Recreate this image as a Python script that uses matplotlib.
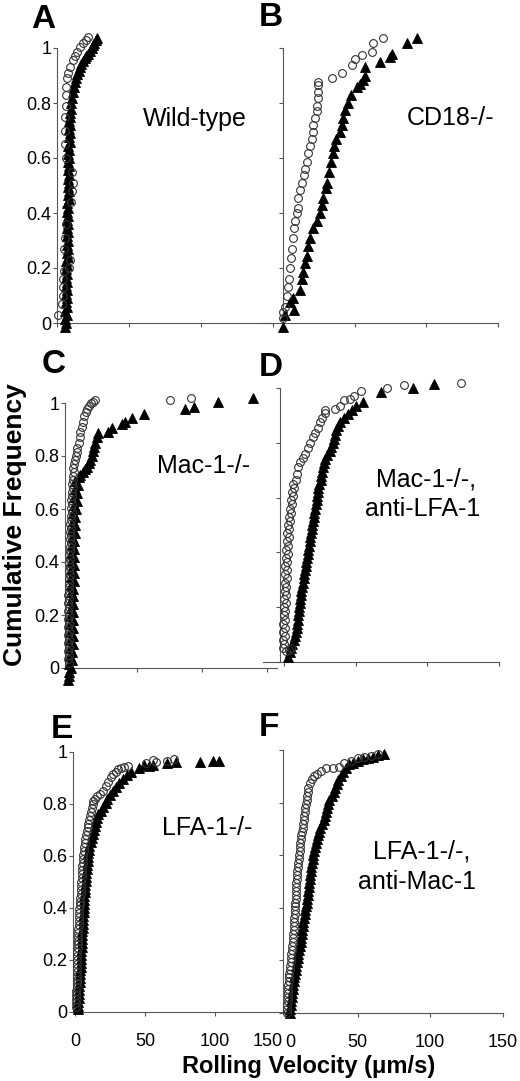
import matplotlib
matplotlib.use('Agg')
import matplotlib.pyplot as plt
from matplotlib.transforms import ScaledTranslation

plt.rcParams['font.family'] = ['Liberation Sans', 'DejaVu Sans']

# ---------------- data (velocity in um/s, cumulative frequency) ----------------
# Panel A  Wild-type
A_tri_v = [5.6,6.4,5.8,6.6,5.9,6.7,6.0,6.8,6.1,6.9, 6.2,7.0,6.3,7.1,6.4,7.2,6.5,7.3,6.6,7.4,
           6.7,7.5,6.8,7.6,6.9,7.7,7.0,7.8,7.1,7.9, 7.2,8.0,7.3,8.1,7.4,8.2,7.5,8.3,7.6,8.4,
           7.7,8.5,7.8,8.6,7.9,8.7,8.0,8.8,8.2,9.0, 8.4,9.2,8.7,9.4,
           9.8,10.5,11.2,12.0,12.6,13.2,14.0,15.0,16.0,17.0,
           18.0,19.2,20.4,21.6,22.8,24.0,25.0,26.0,27.0,28.0]
A_tri_f = [-0.015,0.000,0.015,0.030,0.045,0.060,0.075,0.090,0.105,0.120, 0.135,0.150,0.165,0.180,0.195,0.210,0.225,0.240,0.255,0.270,
           0.285,0.300,0.315,0.330,0.345,0.360,0.375,0.390,0.405,0.420, 0.435,0.450,0.465,0.480,0.495,0.510,0.525,0.540,0.555,0.570,
           0.585,0.600,0.615,0.630,0.645,0.660,0.675,0.690,0.705,0.720, 0.735,0.750,0.765,0.780,
           0.800,0.820,0.840,0.860,0.875,0.890,0.905,0.918,0.930,0.942,
           0.953,0.963,0.972,0.980,0.990,1.000,1.010,1.020,1.028,1.036]
A_cir_v = [0.7,3.5,4.0,4.5,4.5,5.0,8.5,9.0,5.0,5.5,6.0,10.0,10.5,11.0,10.5,6.0,5.5,5.5,5.5,6.0,
           6.0,6.5,7.0,7.6,9.0,11.0,12.5,14.0,16.0,18.0,20.0,21.5]
A_cir_f = [0.03,0.07,0.1,0.13,0.16,0.19,0.2,0.23,0.27,0.31,0.36,0.44,0.48,0.51,0.55,0.6,0.65,0.7,0.75,0.79,
           0.83,0.86,0.89,0.91,0.93,0.955,0.97,0.985,1.005,1.02,1.03,1.04]

# Panel B  CD18-/-
B_tri_v = [0,1.4,5,7.7,7,12,13,14,15.4,16.8,17.5,19,21,23.8,26,27,28,30,31,32,
           33.6,35,36,37,40,41,42,43.4,45.5,47.5,51.7,54,56,57,57,68,75,76,87,94]
B_tri_f = [-0.015,0.03,0.076,0.047,0.09,0.12,0.16,0.185,0.22,0.245,0.28,0.31,0.345,0.37,0.4,0.43,0.455,0.49,0.51,0.55,
           0.585,0.62,0.645,0.67,0.695,0.72,0.745,0.775,0.8,0.83,0.86,0.87,0.885,0.9,0.93,0.95,0.967,0.98,1.02,1.036]
B_cir_v = [0,0,1.5,3,3.5,4.5,5,5.6,6.3,7,7.7,8.4,9.8,10.5,10.5,12,13,14.7,15.4,16.8,
           17.5,19,20,21,21,22.4,23.8,23.8,24.5,24.5,24.5,24.5,34,41,48,50,55,62,63,70]
B_cir_f = [0.02,0.04,0.06,0.1,0.13,0.16,0.2,0.235,0.27,0.31,0.345,0.37,0.4,0.42,0.455,0.485,0.51,0.54,0.56,0.585,
           0.62,0.645,0.67,0.695,0.72,0.745,0.77,0.79,0.82,0.84,0.865,0.875,0.89,0.91,0.94,0.96,0.975,0.985,1.02,1.036]

# Panel C  Mac-1-/-
C_tri_v = [-3.0,-2.0,-2.5,-1.0,-2.0,0.0,-1.8,0.2,-1.6,0.4, -1.5,0.5,-1.4,0.6,-1.3,0.7,-1.2,0.8,-1.1,0.9,
           -1.0,1.0,-0.9,1.1,-0.8,1.2,-0.7,1.3,-0.6,1.4, -0.5,1.5,-0.4,1.6,-0.2,1.8,0.0,2.0,0.2,2.3,
           0.5,2.6,0.8,3.0,1.2,3.5,1.6,4.0,2.0,4.6, 2.5,5.5,
           6.5,8.5,10,11.5,13,14,15,16,17,18,
           19,20,27.7,31,38.5,41,46,55,87,94, 112,139]
C_tri_f = [-0.045,-0.030,-0.015,0.000,0.015,0.030,0.045,0.060,0.075,0.090, 0.105,0.120,0.135,0.150,0.165,0.180,0.195,0.210,0.225,0.240,
           0.255,0.270,0.285,0.300,0.315,0.330,0.345,0.360,0.375,0.390, 0.405,0.420,0.435,0.450,0.465,0.480,0.495,0.510,0.525,0.540,
           0.555,0.570,0.585,0.600,0.615,0.630,0.645,0.660,0.675,0.690, 0.705,0.720,
           0.730,0.740,0.750,0.760,0.775,0.785,0.800,0.820,0.835,0.850,
           0.870,0.885,0.890,0.905,0.920,0.930,0.945,0.960,0.978,0.985, 1.004,1.020]
C_cir_v = [-2.5,-3.2,-2.0,-3.0,-2.5,-3.2,-2.2,-3.0,-2.6,-3.1, -2.4,-3.0,-2.5,-2.9,-2.3,-2.8,-2.2,-2.7,-2.1,-2.6,
           -2.0,-2.5,-1.8,-2.4,-1.6,-2.3,-1.4,-2.1,-1.2,-1.9, -1.0,-1.7,-0.8,-1.5,-0.6,-1.3,-0.4,-1.1,-0.2,-0.9,
           0.0,-0.6,0.3,-0.3,0.6,0.0,1.0,0.4,1.4,0.9, 1.8,2.2,2.8,
           3.5,4,5,6,6.5,7.5,8.5,9.5,10.5,11.5,
           13,14.5,16,18,75,91.5]
C_cir_f = [0.020,0.035,0.050,0.065,0.080,0.095,0.110,0.125,0.140,0.155, 0.170,0.185,0.200,0.215,0.230,0.245,0.260,0.275,0.290,0.305,
           0.320,0.335,0.350,0.365,0.380,0.395,0.410,0.425,0.440,0.455, 0.470,0.485,0.500,0.515,0.530,0.545,0.560,0.575,0.590,0.605,
           0.620,0.635,0.650,0.665,0.680,0.695,0.710,0.725,0.740,0.755, 0.770,0.785,0.800,
           0.815,0.830,0.850,0.870,0.890,0.910,0.930,0.950,0.965,0.978,
           0.990,1.000,1.005,1.010,1.010,1.020]

# Panel D  Mac-1-/-, anti-LFA-1
D_tri_v = [2.8,4.0,4.8,5.8,6.8,7.8,8.4,9.0,9.4,9.7, 10.0,10.3,10.6,10.9,11.2,11.6,12.1,12.6,13.1,13.7,
           14.2,14.7,15.1,15.5,16.0,16.5,17.0,17.5,18.0,18.5, 18.9,19.3,19.8,20.3,20.8,21.2,21.8,22.4,23.0,23.3,
           23.6,24.0,24.8,25.7,26.2,26.6,27.0,27.8,28.6,30.0, 32.0,33.0,34.0,35.0,35.8,36.6,37.5,39.5,42.0,45.0,
           47.5,50.5,55.0, 68,90,105]
D_tri_f = [0.020,0.035,0.050,0.065,0.080,0.095,0.110,0.125,0.140,0.155, 0.170,0.185,0.200,0.215,0.230,0.245,0.260,0.275,0.290,0.305,
           0.320,0.335,0.350,0.365,0.380,0.395,0.410,0.425,0.440,0.455, 0.470,0.485,0.500,0.515,0.530,0.545,0.560,0.575,0.590,0.605,
           0.620,0.635,0.650,0.665,0.680,0.695,0.710,0.725,0.740,0.755, 0.770,0.785,0.800,0.815,0.830,0.845,0.860,0.875,0.890,0.905,
           0.920,0.935,0.950, 0.985,1.000,1.015]
D_cir_v = [1.5,3.5,5.0, -1.0,0.2,-0.8,0.4,-0.6,0.6,-0.4,0.8,-0.2,1.0, 0.0,1.2,0.2,1.4,0.4,1.6,0.6,1.8,0.8,2.0,
           1.0,2.3,1.3,2.6,1.6,2.9,1.9,3.2,2.2,3.5, 3.0,4.4,3.5,5.0,4.0,5.6,4.6,6.3,5.3,7.0, 6.5,8.5,
           9,10,11,13,14.5,16.7,18,20,21.5,23.6, 25,26.4,28.5,28.5,35.4,39,41.7,46,49,54, 72,84,124]
D_cir_f = [0.040,0.045,0.050, 0.050,0.065,0.080,0.095,0.110,0.125,0.140,0.155,0.170,0.185, 0.200,0.215,0.230,0.245,0.260,0.275,0.290,0.305,0.320,0.335,
           0.350,0.365,0.380,0.395,0.410,0.425,0.440,0.455,0.470,0.485, 0.500,0.515,0.530,0.545,0.560,0.575,0.590,0.605,0.620,0.635, 0.650,0.665,
           0.685,0.710,0.730,0.745,0.760,0.780,0.800,0.820,0.835,0.855, 0.875,0.890,0.910,0.920,0.925,0.934,0.955,0.960,0.970,0.990, 1.000,1.010,1.020]

# Panel E  LFA-1-/-
E_tri_v = [2.0,2.2,2.4,2.6,2.8,3.0,3.15,3.3,3.45,3.6, 3.8,3.95,4.1,4.25,4.4,4.6,4.75,4.9,5.05,5.2,
           5.35,5.5,5.7,5.85,6.0,6.15,6.3,6.45,6.6,6.75, 6.9,7.1,7.4,7.65,7.9,8.15,8.4,8.7,9.0,9.3,
           9.5,9.8,10.3,11.1,11.9,12.7,13.6,14.4,15.3,16.0, 16.7,18.3,20.3,21.9,23.1,24.8,27.2,29.4,31.4,34.1,
           36.8,40.3,45.4, 49,53,56,66,72,89,98.6,103]
E_tri_f = [0.010,0.025,0.040,0.055,0.070,0.085,0.100,0.115,0.130,0.145, 0.160,0.175,0.190,0.205,0.220,0.235,0.250,0.265,0.280,0.295,
           0.310,0.325,0.340,0.355,0.370,0.385,0.400,0.415,0.430,0.445, 0.460,0.475,0.490,0.505,0.520,0.535,0.550,0.565,0.580,0.595,
           0.610,0.625,0.640,0.655,0.670,0.685,0.700,0.715,0.730,0.745, 0.760,0.775,0.790,0.805,0.820,0.835,0.850,0.865,0.880,0.895,
           0.910,0.925,0.940, 0.950,0.946,0.950,0.958,0.960,0.960,0.965,0.965]
E_cir_v = [0.7,0.8,0.86,0.94,1.02,1.1,1.18,1.26,1.35,1.42, 1.5,1.56,1.63,1.7,1.77,1.84,1.9,1.98,2.1,2.25,
           2.4,2.55,2.7,2.85,3.0,3.2,3.45,3.65,3.85,4.1, 4.3,4.45,4.6,4.8,4.95,5.1,5.25,5.45,5.6,5.8,
           6.1,6.45,6.8,7.2,7.8,8.4,9.0,9.5,10.1,10.6, 11.2,11.9,12.5,
           13,14.5,16,18,20,22,23.5,25.7,27,29, 31,33,35,37.6,51,56,58,66,71]
E_cir_f = [0.020,0.035,0.050,0.065,0.080,0.095,0.110,0.125,0.140,0.155, 0.170,0.185,0.200,0.215,0.230,0.245,0.260,0.275,0.290,0.305,
           0.320,0.335,0.350,0.365,0.380,0.395,0.410,0.425,0.440,0.455, 0.470,0.485,0.500,0.515,0.530,0.545,0.560,0.575,0.590,0.605,
           0.620,0.635,0.650,0.665,0.680,0.695,0.710,0.725,0.740,0.755, 0.770,0.785,0.800,
           0.810,0.820,0.830,0.840,0.850,0.870,0.885,0.905,0.915,0.925, 0.933,0.940,0.944,0.946,0.958,0.970,0.960,0.965,0.975]

# Panel F  LFA-1-/-, anti-Mac-1
F_tri_v = [3.4,3.75,4.1,4.45,4.8,5.15,5.5,5.8,6.15,6.45, 6.8,7.3,7.8,8.3,8.8,9.3,9.8,10.25,10.7,11.15,
           11.6,12.0,12.35,12.7,13.1,13.5,13.9,14.4,14.9,15.4, 15.85,16.2,16.5,16.8,17.1,17.4,17.7,18.2,18.6,19.1,
           19.5,20.1,20.7,21.4,22.0,22.8,23.5,24.4,25.7,26.8, 27.5,28.3,29.1,29.9,30.6,32.1,33.5,34.7,35.7,36.7,
           38.3,39.9,41.8,44.0, 47,50,54,57,61,64,68]
F_tri_f = [0.000,0.015,0.030,0.045,0.060,0.075,0.090,0.105,0.120,0.135, 0.150,0.165,0.180,0.195,0.210,0.225,0.240,0.255,0.270,0.285,
           0.300,0.315,0.330,0.345,0.360,0.375,0.390,0.405,0.420,0.435, 0.450,0.465,0.480,0.495,0.510,0.525,0.540,0.555,0.570,0.585,
           0.600,0.615,0.630,0.645,0.660,0.675,0.690,0.705,0.720,0.735, 0.750,0.765,0.780,0.795,0.810,0.825,0.840,0.855,0.870,0.885,
           0.900,0.915,0.930,0.945, 0.952,0.960,0.965,0.970,0.975,0.980,0.985]
F_cir_v = [1.4,1.52,1.64,1.76,1.87,2.0,2.2,2.4,2.62,2.83, 3.05,3.26,3.5,3.8,4.07,4.35,4.64,4.93,5.2,5.47,
           5.68,5.9,6.1,6.3,6.52,6.73,6.9,7.03,7.17,7.3, 7.45,7.6,7.72,7.86,8.0,8.3,8.56,8.85,9.13,9.4,
           9.7,10.0,10.3,10.6,10.9,11.27,11.67,12.07,12.47,12.87, 13.27,13.67,14.07,14.47,14.87,15.3,15.7,16.15,
           17.3,18.4,20,21.8,25,28.6,33,37,41,45.6, 50,54.4,59,64]
F_cir_f = [0.000,0.015,0.030,0.045,0.060,0.075,0.090,0.105,0.120,0.135, 0.150,0.165,0.180,0.195,0.210,0.225,0.240,0.255,0.270,0.285,
           0.300,0.315,0.330,0.345,0.360,0.375,0.390,0.405,0.420,0.435, 0.450,0.465,0.480,0.495,0.510,0.525,0.540,0.555,0.570,0.585,
           0.600,0.615,0.630,0.645,0.660,0.675,0.690,0.705,0.720,0.735, 0.750,0.765,0.780,0.795,0.810,0.825,0.840,0.855,
           0.875,0.890,0.900,0.910,0.920,0.930,0.933,0.935,0.950,0.960, 0.970,0.975,0.977,0.985]

x_ticks = [0, 50, 100, 150]
x_ticklabels = ['0', '50', '100', '150']
y_ticks = [0, 0.2, 0.4, 0.6, 0.8, 1.0]
y_ticklabels = ['0', '0.2', '0.4', '0.6', '0.8', '1']

panel_letters = ['A', 'B', 'C', 'D', 'E', 'F']
panel_titles = ['Wild-type', 'CD18-/-', 'Mac-1-/-', 'Mac-1-/-,\nanti-LFA-1', 'LFA-1-/-', 'LFA-1-/-,\nanti-Mac-1']
x_label = 'Rolling Velocity (\u03bcm/s)'
y_label = 'Cumulative Frequency'

# ---------------- figure ----------------
W, H = 520, 1081
fig = plt.figure(figsize=(W / 100, H / 100), dpi=100)

# geometry in pixels: x0 = pixel of velocity 0, pxu = pixels per um/s,
# xlo/xhi = ends of x axis (data), spine = position of y axis (data), y0/y1 = pixel rows of freq 0/1
geo = {
    'A': dict(x0=57, pxu=1.44, xlo=0, xhi=150, spine=0, y0=323, y1=48),
    'B': dict(x0=283, pxu=1.43, xlo=-15, xhi=150, spine=0, y0=323, y1=48),
    'C': dict(x0=72, pxu=1.30, xlo=-5.4, xhi=158, spine=-5.4, y0=668, y1=403),
    'D': dict(x0=284, pxu=1.43, xlo=-15, xhi=150, spine=-2.8, y0=662, y1=388),
    'E': dict(x0=75, pxu=1.40, xlo=-1.4, xhi=150, spine=-1.4, y0=1012, y1=752),
    'F': dict(x0=285, pxu=1.45, xlo=-1.4, xhi=150, spine=-1.4, y0=1013, y1=750),
}
series = {
    'A': (A_tri_v, A_tri_f, A_cir_v, A_cir_f),
    'B': (B_tri_v, B_tri_f, B_cir_v, B_cir_f),
    'C': (C_tri_v, C_tri_f, C_cir_v, C_cir_f),
    'D': (D_tri_v, D_tri_f, D_cir_v, D_cir_f),
    'E': (E_tri_v, E_tri_f, E_cir_v, E_cir_f),
    'F': (F_tri_v, F_tri_f, F_cir_v, F_cir_f),
}
axis_color = '#555555'
axes = {}
for key in panel_letters:
    g = geo[key]
    left = g['x0'] + g['xlo'] * g['pxu']
    width = (g['xhi'] - g['xlo']) * g['pxu']
    ax = fig.add_axes([left / W, (H - g['y0']) / H, width / W, (g['y0'] - g['y1']) / H])
    ax.patch.set_alpha(0)
    ax.set_xlim(g['xlo'], g['xhi'])
    ax.set_ylim(0, 1)
    for s in ('top', 'right'):
        ax.spines[s].set_visible(False)
    ax.spines['left'].set_position(('data', g['spine']))
    for s in ('left', 'bottom'):
        ax.spines[s].set_color(axis_color)
        ax.spines[s].set_linewidth(0.8)
    ax.set_xticks(x_ticks)
    ax.set_yticks(y_ticks)
    show_x = key in ('E', 'F')
    show_y = key in ('A', 'C', 'E')
    ax.set_xticklabels(x_ticklabels if show_x else [])
    ax.set_yticklabels(y_ticklabels if show_y else [])
    ax.tick_params(axis='both', direction='out', length=3, width=0.8, color=axis_color,
                   labelsize=13, labelcolor='black')
    ax.tick_params(axis='x', pad=12)
    ax.tick_params(axis='y', pad=1)
    tv, tf, cv, cf = series[key]
    n1 = min(len(tv), len(tf))
    n2 = min(len(cv), len(cf))
    ax.plot(tv[:n1], tf[:n1], ls='none', marker='^', ms=6.5, mfc='black', mec='black',
            mew=0.6, clip_on=False, zorder=3)
    ax.plot(cv[:n2], cf[:n2], ls='none', marker='o', ms=5.6, mfc='none', mec='#333333',
            mew=0.8, clip_on=False, zorder=4)
    axes[key] = ax

# the "150" of panel E and the "0" of panel F sit close together in the original
lbl = axes['E'].get_xticklabels()[-1]
lbl.set_transform(lbl.get_transform() + ScaledTranslation(-17 / 100, 0, fig.dpi_scale_trans))
lbl0 = axes['F'].get_xticklabels()[0]
lbl0.set_transform(lbl0.get_transform() + ScaledTranslation(5 / 100, 0, fig.dpi_scale_trans))


def ftext(x, y, s, **kw):
    return fig.text(x / W, 1 - y / H, s, **kw)


# panel letters
letter_pos = {'A': (31, 4), 'B': (259, 2), 'C': (42, 349), 'D': (259, 352), 'E': (51, 714), 'F': (259, 712)}
for key in panel_letters:
    x, y = letter_pos[key]
    ftext(x, y, key, fontsize=24, fontweight='bold', ha='left', va='top')

# condition labels
ftext(143, 126, panel_titles[0], fontsize=18, ha='left', va='baseline')
ftext(407, 125, panel_titles[1], fontsize=18, ha='left', va='baseline')
ftext(157, 473, panel_titles[2], fontsize=18, ha='left', va='baseline')
d1, d2 = panel_titles[3].split('\n')
ftext(476, 487, d1, fontsize=18, ha='right', va='baseline')
ftext(480, 516, d2, fontsize=18, ha='right', va='baseline')
ftext(162, 835, panel_titles[4], fontsize=18, ha='left', va='baseline')
f1, f2 = panel_titles[5].split('\n')
ftext(470, 858, f1, fontsize=18, ha='right', va='baseline')
ftext(476, 889, f2, fontsize=18, ha='right', va='baseline')

# axis titles
ftext(15, 525, y_label, fontsize=19, fontweight='bold', rotation=90, ha='center', va='center')
ftext(309, 1066, x_label, fontsize=17, fontweight='bold', ha='center', va='center')

fig.savefig('out.png', dpi=100)
